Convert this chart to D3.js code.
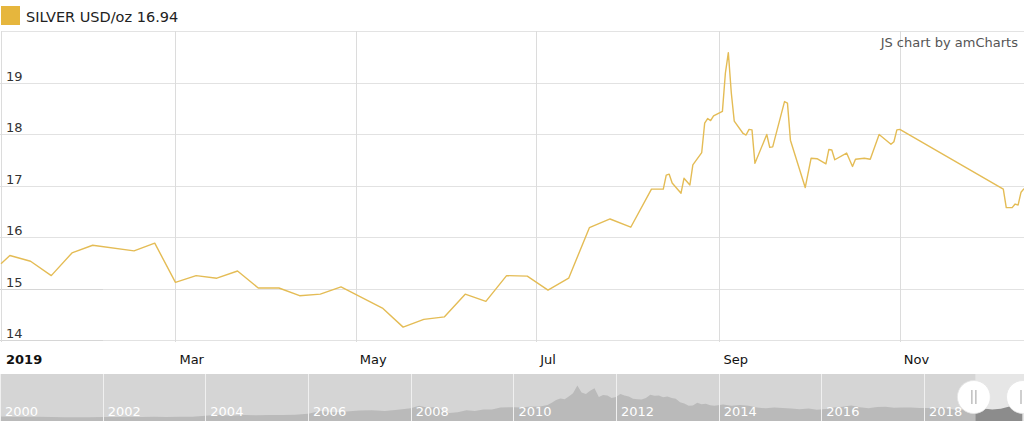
<!DOCTYPE html>
<html>
<head>
<meta charset="utf-8">
<script src="https://cdn.jsdelivr.net/npm/d3@7"></script>
<style>
  html, body { margin: 0; padding: 0; background: #fff; }
  svg { display: block; font-family: "DejaVu Sans", Verdana, sans-serif; }
</style>
</head>
<body>
<svg id="chart" width="1024" height="429"></svg>
<script>
// ---------- DATA ----------
const seriesName = "SILVER USD/oz";
const lastValue = "16.94";

const dates = [
  "2019-01-01","2019-01-04","2019-01-11","2019-01-18","2019-01-25","2019-02-01","2019-02-15","2019-02-22",
  "2019-03-01","2019-03-08","2019-03-15","2019-03-22","2019-03-29","2019-04-05","2019-04-12","2019-04-19",
  "2019-04-26","2019-05-10","2019-05-17","2019-05-24","2019-05-31","2019-06-07","2019-06-14","2019-06-21",
  "2019-06-28","2019-07-05","2019-07-12","2019-07-19","2019-07-26","2019-08-02","2019-08-09","2019-08-13",
  "2019-08-14","2019-08-15","2019-08-16","2019-08-19","2019-08-20","2019-08-22","2019-08-23","2019-08-26",
  "2019-08-27","2019-08-28","2019-08-29","2019-08-30","2019-09-02","2019-09-03","2019-09-04","2019-09-05",
  "2019-09-06","2019-09-09","2019-09-10","2019-09-11","2019-09-12","2019-09-13","2019-09-17","2019-09-18",
  "2019-09-19","2019-09-23","2019-09-24","2019-09-25","2019-09-30","2019-10-02","2019-10-04","2019-10-07",
  "2019-10-08","2019-10-09","2019-10-10","2019-10-14","2019-10-16","2019-10-17","2019-10-20","2019-10-22",
  "2019-10-25","2019-10-29","2019-10-30","2019-10-31","2019-11-01","2019-12-06","2019-12-07","2019-12-09",
  "2019-12-10","2019-12-11","2019-12-12","2019-12-13"
];
const prices = [
  15.48,15.64,15.53,15.25,15.69,15.84,15.73,15.88,
  15.12,15.25,15.20,15.34,15.01,15.01,14.86,14.89,
  15.03,14.62,14.25,14.40,14.45,14.89,14.75,15.25,
  15.24,14.97,15.20,16.18,16.35,16.19,16.93,16.93,
  17.20,17.22,17.05,16.85,17.14,17.01,17.40,17.64,
  18.21,18.30,18.26,18.35,18.44,19.18,19.58,18.80,
  18.25,18.01,17.98,18.09,18.08,17.43,17.99,17.74,
  17.75,18.63,18.60,17.88,16.96,17.53,17.52,17.42,
  17.70,17.69,17.50,17.63,17.37,17.51,17.53,17.51,
  17.99,17.80,17.85,18.08,18.09,16.93,16.57,16.57,
  16.64,16.62,16.87,16.94
];

const yTicks = [14, 15, 16, 17, 18, 19];
const xTickDates = ["2019-01-01","2019-03-01","2019-05-01","2019-07-01","2019-09-01","2019-11-01"];
const xTickLabels = ["2019","Mar","May","Jul","Sep","Nov"];

// scrollbar (long history)
const scrollDates = [
  "2000-01","2000-04","2000-07","2000-10","2001-01","2001-04","2001-07","2001-10",
  "2002-01","2002-04","2002-07","2002-10","2003-01","2003-04","2003-07","2003-10",
  "2004-01","2004-04","2004-07","2004-10","2005-01","2005-04","2005-07","2005-10",
  "2006-01","2006-04","2006-07","2006-10","2007-01","2007-04","2007-07","2007-10",
  "2008-01","2008-03","2008-05","2008-07","2008-09","2008-10","2008-12",
  "2009-02","2009-04","2009-06","2009-08","2009-10","2009-12",
  "2010-01","2010-03","2010-05","2010-07","2010-09","2010-10","2010-11","2010-12",
  "2011-01","2011-02","2011-03","2011-04","2011-05","2011-06","2011-07","2011-08","2011-09","2011-10","2011-11","2011-12",
  "2012-01","2012-02","2012-03","2012-04","2012-05","2012-06","2012-07","2012-08","2012-09","2012-10","2012-11","2012-12",
  "2013-01","2013-02","2013-03","2013-04","2013-05","2013-06","2013-07","2013-08","2013-09","2013-10","2013-11","2013-12",
  "2014-02","2014-04","2014-06","2014-08","2014-10","2014-12",
  "2015-02","2015-04","2015-06","2015-08","2015-10","2015-12",
  "2016-02","2016-04","2016-06","2016-08","2016-10","2016-12",
  "2017-02","2017-04","2017-06","2017-08","2017-10","2017-12",
  "2018-02","2018-04","2018-06","2018-08","2018-10","2018-12",
  "2019-02","2019-04","2019-05","2019-07","2019-09","2019-10","2019-11","2019-12"
];
const scrollPrices = [
  5.3,5.0,5.0,4.8,4.6,4.4,4.3,4.4,
  4.5,4.7,4.8,4.5,4.8,4.6,4.9,5.0,
  6.1,7.6,6.2,7.1,6.8,7.1,7.1,7.6,
  9.0,12.5,11.0,12.0,13.0,13.6,12.6,14.0,
  16.0,19.5,16.8,17.8,12.5,10.0,11.0,
  13.5,12.5,14.5,14.5,17.0,17.5,
  17.5,17.0,18.5,18.0,20.5,23.5,27.0,29.0,
  28.0,32.0,36.0,46.0,37.0,35.0,39.0,42.5,31.0,33.5,33.0,29.5,
  31.0,35.0,33.0,31.5,28.5,28.0,27.5,29.5,34.0,32.5,33.0,30.5,
  31.5,29.5,28.5,24.0,22.5,19.5,19.8,23.5,21.5,22.0,20.0,19.5,
  21.0,19.5,20.5,19.5,17.0,16.0,
  17.0,16.3,15.8,14.8,15.8,14.0,
  15.2,17.0,18.0,19.8,17.5,16.2,
  17.8,18.2,16.8,17.0,17.2,16.5,
  16.5,16.4,16.5,14.5,14.7,15.0,
  15.8,15.0,14.5,15.5,18.5,17.8,17.0,16.9
];
const scrollYearLabels = ["2000","2002","2004","2006","2008","2010","2012","2014","2016","2018"];
const selectedStart = "2019-01-01";

// ---------- DRAW ----------
const svg = d3.select("#chart");
const W = 1024;
const plotTop = 31, plotBottom = 340;
const parse = d3.utcParse("%Y-%m-%d");
const parseM = d3.utcParse("%Y-%m");
const gold = "#e6b63d";

const x = d3.scaleUtc().domain([parse("2019-01-01"), parse("2019-12-13")]).range([1, 1024]);
const y = d3.scaleLinear().domain([14, 20]).range([plotBottom, plotTop]);

// legend
svg.append("rect").attr("x", 1).attr("y", 6).attr("width", 19).attr("height", 19).attr("fill", gold);
svg.append("text").attr("x", 26).attr("y", 22).attr("font-size", 14.5).attr("fill", "#222")
  .text(seriesName + " " + lastValue);

// top border
svg.append("line").attr("x1", 1).attr("x2", W).attr("y1", plotTop + 0.5).attr("y2", plotTop + 0.5)
  .attr("stroke", "#e3e3e3");

// horizontal grid
const gGrid = svg.append("g");
gGrid.selectAll("line.h").data(yTicks).join("line")
  .attr("x1", 0).attr("x2", W)
  .attr("y1", d => Math.round(y(d)) + 0.5).attr("y2", d => Math.round(y(d)) + 0.5)
  .attr("stroke", "#e2e2e2");
// slightly darker short segments near left on 15 and 14
gGrid.selectAll("line.hs").data([15, 14]).join("line")
  .attr("x1", 0).attr("x2", 103)
  .attr("y1", d => Math.round(y(d)) + 0.5).attr("y2", d => Math.round(y(d)) + 0.5)
  .attr("stroke", "#d6d6d6");

// vertical grid
const xTicks = xTickDates.map(parse);
gGrid.selectAll("line.v").data(xTicks).join("line")
  .attr("x1", d => Math.round(x(d)) + 0.5).attr("x2", d => Math.round(x(d)) + 0.5)
  .attr("y1", plotTop).attr("y2", plotBottom + 2)
  .attr("stroke", "#dcdcdc");

// y labels
svg.append("g").selectAll("text").data(yTicks).join("text")
  .attr("x", 6).attr("y", d => y(d) - 2)
  .attr("font-size", 13).attr("fill", "#333")
  .text(d => d);

// x labels
svg.append("g").selectAll("text").data(xTicks).join("text")
  .attr("x", (d, i) => i === 0 ? 6 : x(d) + 4)
  .attr("y", 364)
  .attr("font-size", 13)
  .attr("font-weight", (d, i) => i === 0 ? "bold" : "normal")
  .attr("fill", "#111")
  .text((d, i) => xTickLabels[i]);

// credit
svg.append("text").attr("x", 1018).attr("y", 46.5).attr("text-anchor", "end")
  .attr("font-size", 13).attr("fill", "#555").text("JS chart by amCharts");

// line
svg.append("clipPath").attr("id", "plotClip").append("rect")
  .attr("x", 0).attr("y", plotTop).attr("width", W).attr("height", plotBottom - plotTop);
const pts = dates.map((d, i) => ({ d: parse(d), v: prices[i] }));
svg.append("path").datum(pts)
  .attr("clip-path", "url(#plotClip)")
  .attr("fill", "none").attr("stroke", "#e4bc55").attr("stroke-width", 1.4)
  .attr("stroke-linejoin", "round")
  .attr("d", d3.line().x(p => x(p.d)).y(p => y(p.v)));

// ---------- SCROLLBAR ----------
const sTop = 374, sBottom = 421;
const sx = d3.scaleUtc().domain([parseM("2000-01"), parse("2019-12-13")]).range([0, W]);
const sy = d3.scaleLinear().domain([0, 50]).range([420.5, 382.5]);
const sPts = scrollDates.map((d, i) => ({ d: parseM(d), v: scrollPrices[i] }));
const area = d3.area().x(p => sx(p.d)).y0(sBottom).y1(p => sy(p.v));
const selX = sx(parse(selectedStart));

svg.append("rect").attr("x", 0).attr("y", sTop).attr("width", W).attr("height", sBottom - sTop).attr("fill", "#d5d5d5");
svg.append("rect").attr("x", selX).attr("y", sTop).attr("width", W - selX).attr("height", sBottom - sTop).attr("fill", "#e6e6e6");

svg.append("clipPath").attr("id", "unsel").append("rect")
  .attr("x", 0).attr("y", sTop).attr("width", selX).attr("height", sBottom - sTop);
svg.append("clipPath").attr("id", "sel").append("rect")
  .attr("x", selX).attr("y", sTop).attr("width", W - selX).attr("height", sBottom - sTop);

svg.append("path").datum(sPts).attr("clip-path", "url(#unsel)").attr("fill", "#bababa").attr("d", area);
svg.append("path").datum(sPts).attr("clip-path", "url(#sel)").attr("fill", "#8c8c8c").attr("d", area);

const yearDates = scrollYearLabels.map(s => parse(s + "-01-01"));
svg.append("g").selectAll("line").data(yearDates).join("line")
  .attr("x1", d => Math.round(sx(d)) + 0.5).attr("x2", d => Math.round(sx(d)) + 0.5)
  .attr("y1", sTop).attr("y2", sBottom).attr("stroke", "#f0f0f0");
svg.append("g").selectAll("text").data(yearDates).join("text")
  .attr("x", d => sx(d) + 5).attr("y", 416)
  .attr("font-size", 13).attr("fill", "#ffffff")
  .text((d, i) => scrollYearLabels[i]);

// grips
const grips = [selX - 1.5, 1023];
const gg = svg.append("g").selectAll("g").data(grips).join("g")
  .attr("transform", d => `translate(${d},397)`);
gg.append("circle").attr("r", 16.5).attr("fill", "#ffffff").attr("stroke", "#e4e4e4").attr("stroke-width", 0.8);
gg.append("line").attr("x1", -2).attr("x2", -2).attr("y1", -7).attr("y2", 7).attr("stroke", "#b5b5b5").attr("stroke-width", 1.3);
gg.append("line").attr("x1", 2).attr("x2", 2).attr("y1", -7).attr("y2", 7).attr("stroke", "#b5b5b5").attr("stroke-width", 1.3);
</script>
</body>
</html>
